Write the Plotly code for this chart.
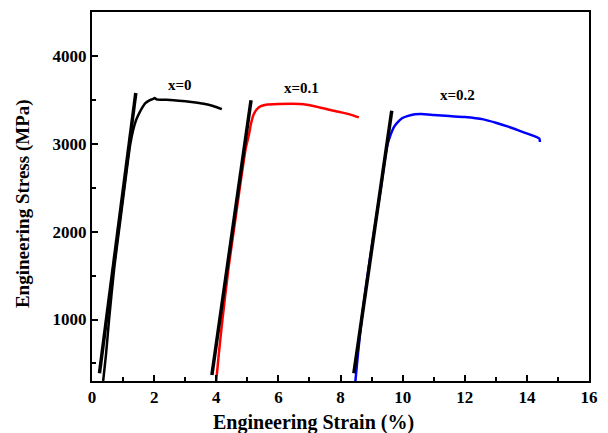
import plotly.graph_objects as go

# --- data ---
strain_x0 = [0.36, 0.45, 0.55, 0.72, 0.92, 1.10, 1.23, 1.32, 1.42, 1.55, 1.71, 1.85, 1.97, 2.02, 2.08, 2.4, 2.8, 3.2, 3.6, 3.9, 4.18]
stress_x0 = [300, 600, 1000, 1600, 2150, 2650, 2990, 3150, 3270, 3370, 3460, 3495, 3510, 3522, 3505, 3500, 3490, 3475, 3455, 3430, 3395]

strain_x01 = [4.00, 4.08, 4.20, 4.40, 4.60, 4.80, 4.95, 5.05, 5.12, 5.20, 5.30, 5.42, 5.60, 6.00, 6.70, 7.20, 7.60, 8.00, 8.30, 8.59]
stress_x01 = [300, 600, 1000, 1600, 2100, 2600, 2950, 3100, 3230, 3330, 3390, 3425, 3445, 3452, 3452, 3425, 3390, 3360, 3335, 3300]

strain_x02 = [8.48, 8.56, 8.68, 8.87, 9.08, 9.30, 9.44, 9.52, 9.61, 9.72, 9.83, 9.98, 10.15, 10.40, 10.60, 11.00, 11.50, 12.00, 12.60, 13.00, 13.40, 13.90, 14.40, 14.42]
stress_x02 = [300, 600, 1000, 1500, 2000, 2500, 2850, 3000, 3100, 3190, 3240, 3290, 3315, 3335, 3338, 3328, 3315, 3305, 3278, 3240, 3195, 3130, 3060, 3020]

# elastic fit lines (start/end)
fit_x0_strain = [0.24, 1.41]
fit_x0_stress = [389, 3577]
fit_x01_strain = [3.86, 5.12]
fit_x01_stress = [369, 3495]
fit_x02_strain = [8.43, 9.65]
fit_x02_stress = [389, 3377]

labels = ["x=0", "x=0.1", "x=0.2"]
label_strain = [2.84, 6.76, 11.76]
label_stress = [3672, 3633, 3550]

x_ticks = [0, 2, 4, 6, 8, 10, 12, 14, 16]
y_ticks = [1000, 2000, 3000, 4000]

FONT = "Liberation Serif, Times New Roman, serif"

fig = go.Figure()
for xs, ys, col in [(strain_x0, stress_x0, "black"),
                    (strain_x01, stress_x01, "#ff0000"),
                    (strain_x02, stress_x02, "#0000ff")]:
    fig.add_trace(go.Scatter(x=xs, y=ys, mode="lines",
                             line=dict(color=col, width=2.5, shape="spline", smoothing=0.6),
                             showlegend=False, hoverinfo="skip"))
for xs, ys in [(fit_x0_strain, fit_x0_stress), (fit_x01_strain, fit_x01_stress), (fit_x02_strain, fit_x02_stress)]:
    fig.add_trace(go.Scatter(x=xs, y=ys, mode="lines",
                             line=dict(color="black", width=3.5),
                             showlegend=False, hoverinfo="skip"))

for t, xv, yv in zip(labels, label_strain, label_stress):
    fig.add_annotation(x=xv, y=yv, text=t, showarrow=False,
                       font=dict(family=FONT, size=15, color="black", weight="bold"))

# axis titles (placed as in the reference)
fig.add_annotation(xref="x", yref="paper", x=7.13, y=-0.112, text="Engineering Strain (%)",
                   showarrow=False, xanchor="center", yanchor="middle",
                   font=dict(family=FONT, size=20, color="black", weight="bold"))
fig.add_annotation(xref="paper", yref="paper", x=-0.139, y=0.482, text="Engineering Stress (MPa)",
                   showarrow=False, textangle=-90, xanchor="center", yanchor="middle",
                   font=dict(family=FONT, size=19, color="black", weight="bold"))

axis_common = dict(showline=True, linecolor="black", linewidth=2, mirror=True,
                   ticks="inside", tickcolor="black", tickwidth=1.5, ticklen=6,
                   showgrid=False, zeroline=False,
                   tickfont=dict(family=FONT, size=17, color="black", weight="bold"))

fig.update_xaxes(range=[0, 16], tickvals=x_ticks,
                 minor=dict(dtick=1, ticks="inside", ticklen=4, tickcolor="black", tickwidth=1.5),
                 **axis_common)
fig.update_yaxes(range=[300, 4500], tickvals=y_ticks,
                 minor=dict(dtick=500, tick0=0, ticks="inside", ticklen=4, tickcolor="black", tickwidth=1.5),
                 **axis_common)

fig.update_layout(width=608, height=433,
                  margin=dict(l=92, r=19, t=10, b=52),
                  plot_bgcolor="white", paper_bgcolor="white")

fig.write_html("out.html", config={"displayModeBar": False},
               post_script="document.body.style.margin='0';")
